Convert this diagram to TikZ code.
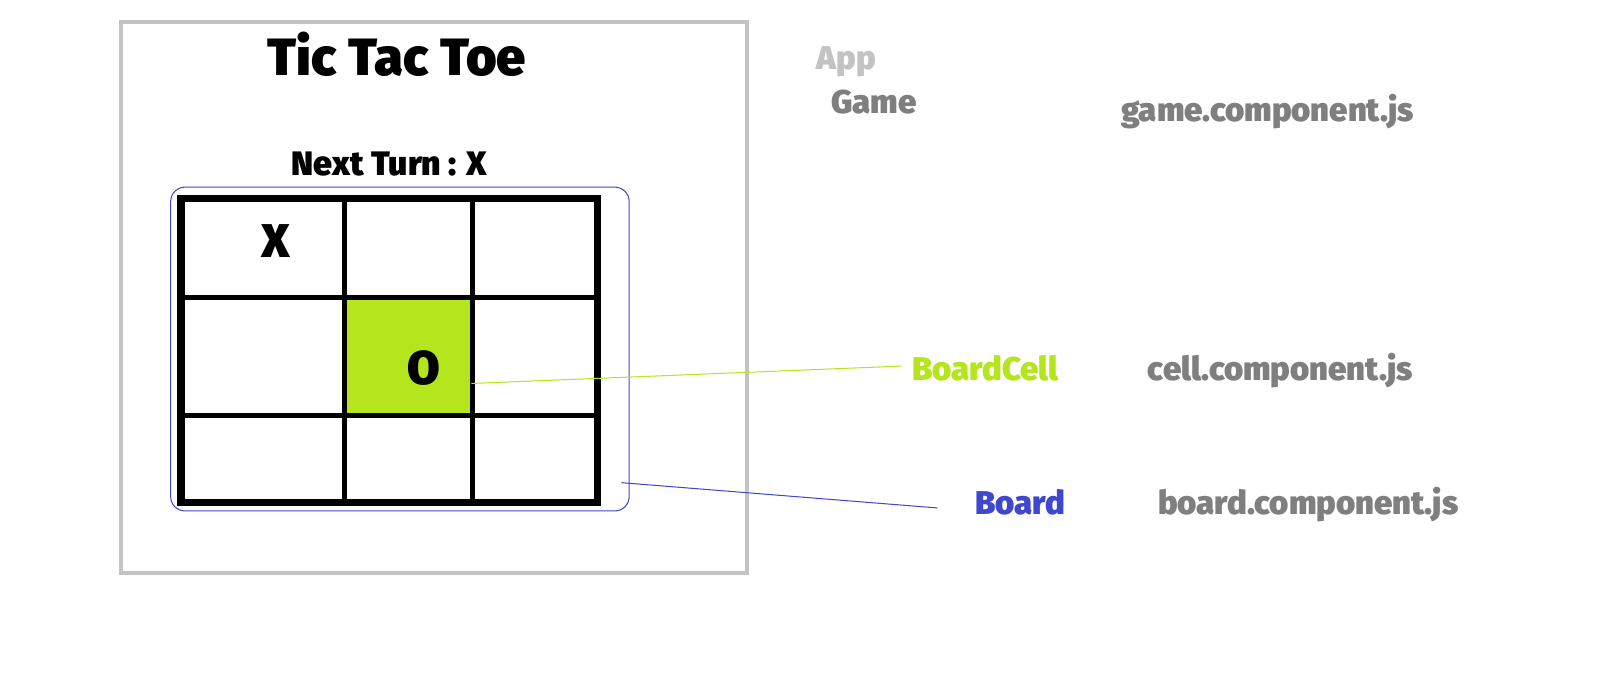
\documentclass[tikz,border=0pt]{standalone}
\usepackage{fontspec}
\setmainfont{Fira Sans}[BoldFont={Fira Sans Black}]
\usepackage{tikz}
\usetikzlibrary{positioning}

\definecolor{framegray}{HTML}{C3C3C3}
\definecolor{textgray}{HTML}{7F7F7F}
\definecolor{celllime}{HTML}{B5E61D}
\definecolor{boardblue}{HTML}{3F48CC}

\tikzset{
	frame/.style={draw=framegray, line width=2pt, inner sep=0pt, minimum width=304.5pt, minimum height=268pt},
	boardbox/.style={draw=boardblue, line width=0.5pt, rounded corners=7pt, inner sep=0pt, minimum width=223pt, minimum height=157.5pt},
	cellbox/.style={fill=celllime, inner sep=0pt, minimum width=60.25pt, minimum height=55pt},
	gridouter/.style={draw=black, line width=3.5pt},
	gridinner/.style={draw=black, line width=2.5pt},
	playmark/.style={font=\bfseries\fontsize{23}{27}\selectfont, inner sep=0pt},
	lbl/.style={font=\bfseries\fontsize{16}{19}\selectfont, inner sep=0pt, anchor=base west},
	wire/.style={line width=0.5pt}
}

\begin{document}
\begin{tikzpicture}[x=0.5pt,y=-0.5pt]
		\useasboundingbox (0,0) rectangle (1568,679);

		\node[frame] (game) at (422.5,289) {};
		\node[font=\bfseries\fontsize{25.5}{30}\selectfont, inner sep=0pt, anchor=base] (title) at (386,73) {Tic Tac Toe};
		\node[font=\bfseries\fontsize{16.5}{20}\selectfont, inner sep=0pt, anchor=base] (turn) at (379,171) {Next Turn : X};

		\node[boardbox] (board) at (389,339.5) {};
		\node[cellbox] (cell) at (397.75,347) {};

		\draw[gridouter] (176,193) rectangle (581,489);
		\draw[gridinner] (335,193) -- (335,489);
		\draw[gridinner] (460,193) -- (460,489);
		\draw[gridinner] (176,289) -- (581,289);
		\draw[gridinner] (176,404) -- (581,404);

		\node[playmark] (xmark) at (268,234) {X};
		\node[playmark] (omark) at (412,358) {O};

		\node[lbl, text=framegray] (app) at (794,68) {App};
		\node[lbl, text=textgray] (gamelbl) at (808,110) {Game};
		\node[lbl, text=textgray] (gamefile) at (1090,118) {game.component.js};
		\node[lbl, text=celllime] (celllbl) at (887,370) {BoardCell};
		\node[lbl, text=textgray] (cellfile) [base right = 43pt of celllbl] {cell.component.js};
		\node[lbl, text=boardblue] (boardlbl) at (948,500) {Board};
		\node[lbl, text=textgray] (boardfile) [base right = 45pt of boardlbl] {board.component.js};

		\draw[wire, celllime] ([yshift=-13pt]cell.east) -- ([xshift=-5pt,yshift=1pt]celllbl.west);
		\draw[wire, boardblue] ([xshift=-4pt,yshift=-65pt]board.east) -- ([xshift=-18pt,yshift=-3pt]boardlbl.west);
	\end{tikzpicture}
\end{document}
